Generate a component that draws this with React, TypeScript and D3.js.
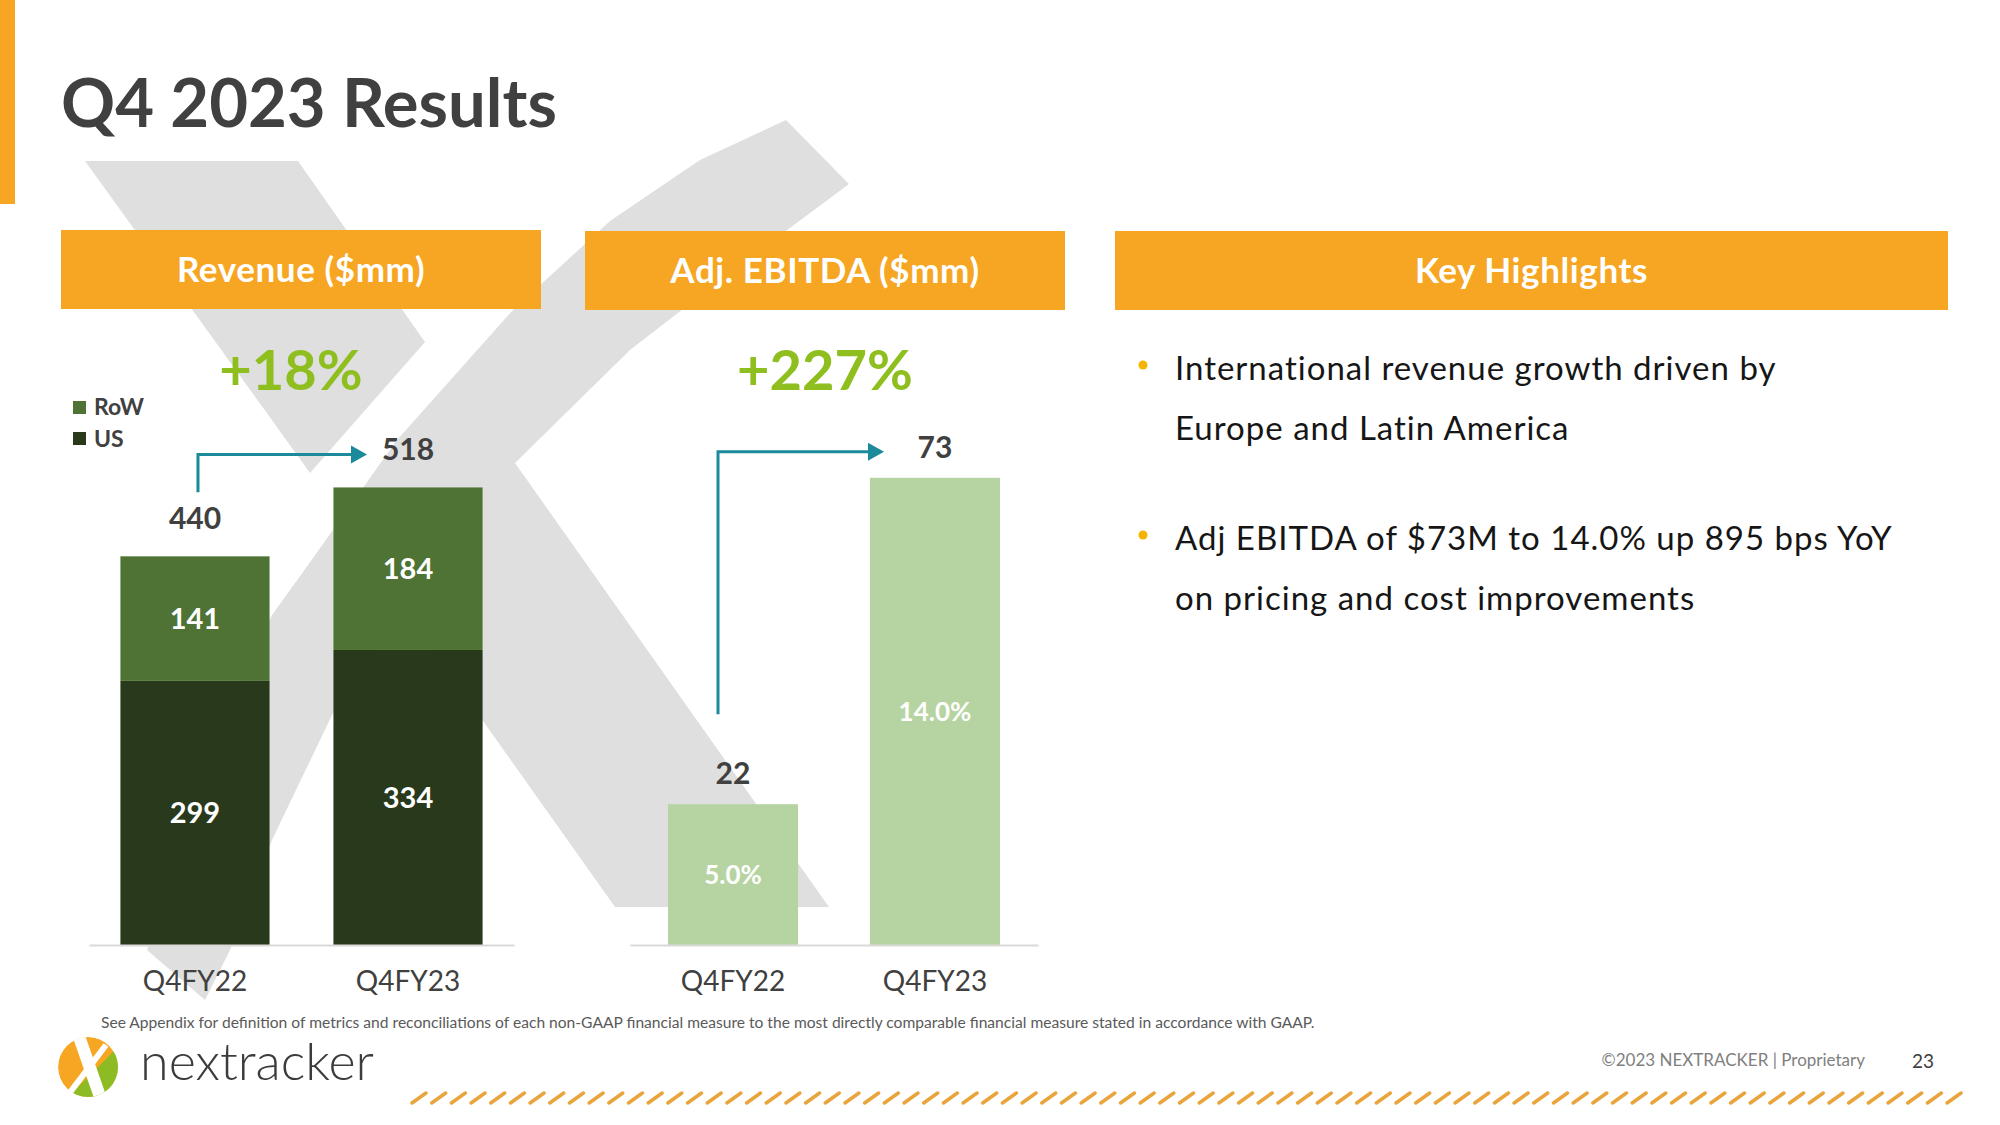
import React, { useEffect, useRef } from 'react';
import * as d3 from 'd3';

const W = 2000;
const H = 1125;
const FONT = 'Lato, "Open Sans", "DejaVu Sans", sans-serif';

// revenue ($mm), stacked US + RoW
const revCategories = ['Q4FY22', 'Q4FY23'];
const revKeys = ['US', 'RoW'];
const revUS = [299, 334];
const revRoW = [141, 184];
const revGrowth = '+18%';

// adj. EBITDA ($mm) and margin
const ebitdaCategories = ['Q4FY22', 'Q4FY23'];
const ebitdaValues = [22, 73];
const ebitdaMargins = ['5.0%', '14.0%'];
const ebitdaGrowth = '+227%';

const legendLabels = ['RoW', 'US'];

const highlights = [
  ['International revenue growth driven by', 'Europe and Latin America'],
  ['Adj EBITDA of $73M to 14.0% up 895 bps YoY', 'on pricing and cost improvements'],
];

const colors = {
  orange: '#f6a623',
  title: '#404040',
  US: '#29391c',
  RoW: '#4f7334',
  ebitda: '#b6d4a2',
  growth: '#8fbe1f',
  arrow: '#1b8a9b',
  axis: '#d9d9d9',
  mark: '#dfdfdf',
};

export default function App() {
  const ref = useRef<SVGSVGElement>(null);

  useEffect(() => {
    const svg = d3.select(ref.current);
    svg.selectAll('*').remove();

    // ---- background "X" watermark
    const poly = d3.line().curve(d3.curveLinearClosed);
    const upperArm = [[85, 161], [298, 161], [425, 342], [310, 473]];
    const lowerArm = [[515, 463], [829, 907], [615, 907], [405, 611], [430, 540]];
    const longStroke = [
      [147, 950], [195, 800], [240, 680], [272, 615], [313, 558], [397, 440], [513, 310],
      [610, 221], [700, 160], [786, 120], [849, 184], [740, 265], [630, 350], [515, 463],
      [420, 590], [333, 713], [272, 840], [230, 950], [205, 1000],
    ];
    const wm = svg.append('g');
    wm.append('path').attr('d', poly(upperArm as any)).attr('fill', colors.mark);
    wm.append('path').attr('d', poly(lowerArm as any)).attr('fill', colors.mark);
    wm.append('path').attr('d', poly(longStroke as any)).attr('fill', colors.mark);

    // ---- slide chrome
    svg.append('rect').attr('x', 0).attr('y', 0).attr('width', 15).attr('height', 204).attr('fill', colors.orange);
    svg.append('text')
      .attr('x', 61).attr('y', 127)
      .style('font-size', '67px').style('font-weight', 700)
      .attr('fill', colors.title)
      .text('Q4 2023 Results');

    const headers = [
      { label: 'Revenue ($mm)', x: 61, w: 480, y: 230 },
      { label: 'Adj. EBITDA ($mm)', x: 585, w: 480, y: 231 },
      { label: 'Key Highlights', x: 1115, w: 833, y: 231 },
    ];
    headers.forEach(h => {
      svg.append('rect').attr('x', h.x).attr('y', h.y).attr('width', h.w).attr('height', 79).attr('fill', colors.orange);
      svg.append('text')
        .attr('x', h.x + h.w / 2).attr('y', h.y + 52)
        .attr('text-anchor', 'middle')
        .style('font-size', '35px').style('font-weight', 700)
        .style('letter-spacing', '0.6px')
        .attr('fill', '#fff')
        .text(h.label);
    });

    // ---- revenue chart
    const x = d3.scaleBand().domain(revCategories).range([89, 514]).paddingInner(0.3).paddingOuter(0.1475);
    const y = d3.scaleLinear().domain([0, 600]).range([945, 415]);
    const rows = revCategories.map((c, i) => ({ cat: c, US: revUS[i], RoW: revRoW[i] }));
    const stacked = d3.stack<any>().keys(revKeys)(rows);
    const totals = rows.map(r => r.US + r.RoW);

    const rev = svg.append('g');
    stacked.forEach(layer => {
      rev.selectAll(null)
        .data(layer)
        .enter().append('rect')
        .attr('x', d => x(d.data.cat)!)
        .attr('y', d => y(d[1]))
        .attr('width', x.bandwidth())
        .attr('height', d => y(d[0]) - y(d[1]))
        .attr('fill', (colors as any)[layer.key]);
      rev.selectAll(null)
        .data(layer)
        .enter().append('text')
        .attr('x', d => x(d.data.cat)! + x.bandwidth() / 2)
        .attr('y', d => (y(d[0]) + y(d[1])) / 2)
        .attr('dy', '0.36em')
        .attr('text-anchor', 'middle')
        .style('font-size', '29px').style('font-weight', 700)
        .attr('fill', '#fff')
        .text(d => d[1] - d[0]);
    });
    rev.selectAll(null)
      .data(totals)
      .enter().append('text')
      .attr('x', (d, i) => x(revCategories[i])! + x.bandwidth() / 2)
      .attr('y', d => y(d) - 27)
      .attr('text-anchor', 'middle')
      .style('font-size', '30px').style('font-weight', 700)
      .attr('fill', colors.title)
      .text(d => d);

    const xAxis = d3.axisBottom(x).tickSize(0).tickSizeOuter(0).tickPadding(26);
    const gx = rev.append('g').attr('transform', 'translate(0,945)').call(xAxis);
    gx.select('.domain').attr('stroke', colors.axis).attr('stroke-width', 2);
    gx.selectAll('text').style('font-size', '28px').style('font-family', FONT).attr('fill', colors.title);

    // legend
    legendLabels.forEach((k, i) => {
      rev.append('rect').attr('x', 73).attr('y', 401 + i * 31).attr('width', 13).attr('height', 13)
        .attr('fill', (colors as any)[k]);
      rev.append('text').attr('x', 94).attr('y', 415 + i * 32)
        .style('font-size', '23px').style('font-weight', 700)
        .attr('fill', colors.title).text(k);
    });

    // growth arrow + label
    const drawArrow = (g: any, x0: number, yBottom: number, yLine: number, xTip: number) => {
      g.append('path')
        .attr('d', `M${x0},${yBottom}V${yLine}H${xTip - 13}`)
        .attr('fill', 'none').attr('stroke', colors.arrow).attr('stroke-width', 3);
      g.append('path')
        .attr('d', `M${xTip},${yLine}L${xTip - 16},${yLine - 9}L${xTip - 16},${yLine + 9}Z`)
        .attr('fill', colors.arrow);
    };
    const rc0 = x(revCategories[0])! + x.bandwidth() / 2;
    const rc1 = x(revCategories[1])! + x.bandwidth() / 2;
    drawArrow(rev, rc0 + 3, y(totals[0]) - 64, y(totals[1]) - 33, rc1 - 41);
    rev.append('text')
      .attr('x', 291).attr('y', 390)
      .attr('text-anchor', 'middle')
      .style('font-size', '56px').style('font-weight', 700)
      .attr('fill', colors.growth)
      .text(revGrowth);

    // ---- EBITDA chart
    const xE = d3.scaleBand().domain(ebitdaCategories).range([630, 1038]).paddingInner(0.356).paddingOuter(0.188);
    const yE = d3.scaleLinear().domain([0, 80]).range([945, 433]);
    const eb = svg.append('g');
    eb.selectAll(null)
      .data(ebitdaValues)
      .enter().append('rect')
      .attr('x', (d, i) => xE(ebitdaCategories[i])!)
      .attr('y', d => yE(d))
      .attr('width', xE.bandwidth())
      .attr('height', d => yE(0) - yE(d))
      .attr('fill', colors.ebitda);
    eb.selectAll(null)
      .data(ebitdaValues)
      .enter().append('text')
      .attr('x', (d, i) => xE(ebitdaCategories[i])! + xE.bandwidth() / 2)
      .attr('y', d => yE(d) - 20)
      .attr('text-anchor', 'middle')
      .style('font-size', '30px').style('font-weight', 700)
      .attr('fill', colors.title)
      .text(d => d);
    eb.selectAll(null)
      .data(ebitdaValues)
      .enter().append('text')
      .attr('x', (d, i) => xE(ebitdaCategories[i])! + xE.bandwidth() / 2)
      .attr('y', d => (yE(d) + yE(0)) / 2)
      .attr('dy', '0.36em')
      .attr('text-anchor', 'middle')
      .style('font-size', '26px').style('font-weight', 700)
      .attr('fill', '#fff')
      .text((d, i) => ebitdaMargins[i]);

    const gxE = eb.append('g').attr('transform', 'translate(0,945)').call(d3.axisBottom(xE).tickSize(0).tickSizeOuter(0).tickPadding(26));
    gxE.select('.domain').attr('stroke', colors.axis).attr('stroke-width', 2);
    gxE.selectAll('text').style('font-size', '28px').style('font-family', FONT).attr('fill', colors.title);

    const ec0 = xE(ebitdaCategories[0])! + xE.bandwidth() / 2;
    const ec1 = xE(ebitdaCategories[1])! + xE.bandwidth() / 2;
    drawArrow(eb, ec0 - 15, yE(ebitdaValues[0]) - 90, yE(ebitdaValues[1]) - 26, ec1 - 51);
    eb.append('text')
      .attr('x', 825).attr('y', 390)
      .attr('text-anchor', 'middle')
      .style('font-size', '56px').style('font-weight', 700)
      .attr('fill', colors.growth)
      .text(ebitdaGrowth);

    // ---- key highlights
    const hl = svg.append('g');
    highlights.forEach((lines, i) => {
      const base = 380 + i * 170;
      hl.append('circle').attr('cx', 1143).attr('cy', base - 15).attr('r', 4.5).attr('fill', '#f5b400');
      lines.forEach((t, j) => {
        hl.append('text').attr('x', 1175).attr('y', base + j * 60)
          .style('font-size', '33px').style('letter-spacing', '1px')
          .attr('fill', '#161616').text(t);
      });
    });

    // ---- footer
    svg.append('text')
      .attr('x', 101).attr('y', 1028)
      .style('font-size', '15.6px').attr('fill', '#5a5a5a')
      .text('See Appendix for definition of metrics and reconciliations of each non-GAAP financial measure to the most directly comparable financial measure stated in accordance with GAAP.');

    // logo
    const logo = svg.append('g').attr('transform', 'translate(88,1067)');
    logo.append('clipPath').attr('id', 'logo-clip').append('circle').attr('r', 30);
    const lc = logo.append('g').attr('clip-path', 'url(#logo-clip)');
    lc.append('circle').attr('r', 30).attr('fill', colors.orange);
    lc.append('path').attr('d', 'M-30,40L40,-30L40,40Z').attr('fill', '#8dbb24');
    lc.append('path').attr('d', 'M-16,-32L-3,-32L20,34L7,34Z').attr('fill', '#fff');
    lc.append('path').attr('d', 'M-20,28L18,-22').attr('stroke', '#fff').attr('stroke-width', 6);
    svg.append('text')
      .attr('x', 140).attr('y', 1080)
      .style('font-size', '52px').style('font-weight', 300)
      .attr('fill', '#3c3c3c')
      .attr('textLength', 234).attr('lengthAdjust', 'spacingAndGlyphs')
      .text('nextracker');

    svg.append('text')
      .attr('x', 1865).attr('y', 1066)
      .attr('text-anchor', 'end')
      .style('font-size', '17px').attr('fill', '#808080')
      .text('©2023 NEXTRACKER | Proprietary');
    svg.append('text')
      .attr('x', 1923).attr('y', 1068)
      .attr('text-anchor', 'middle')
      .style('font-size', '19px').attr('fill', colors.title)
      .text('23');

    // orange slash rule
    svg.append('g').selectAll('line')
      .data(d3.range(79))
      .enter().append('line')
      .attr('x1', i => 412 + i * 19.68).attr('y1', 1103)
      .attr('x2', i => 426 + i * 19.68).attr('y2', 1093)
      .attr('stroke', '#e9a43c').attr('stroke-width', 3.5).attr('stroke-linecap', 'round');
  }, []);

  return (
    <svg
      ref={ref}
      width={W}
      height={H}
      viewBox={`0 0 ${W} ${H}`}
      style={{ position: 'absolute', left: 0, top: 0, background: '#fff', fontFamily: FONT }}
    />
  );
}
